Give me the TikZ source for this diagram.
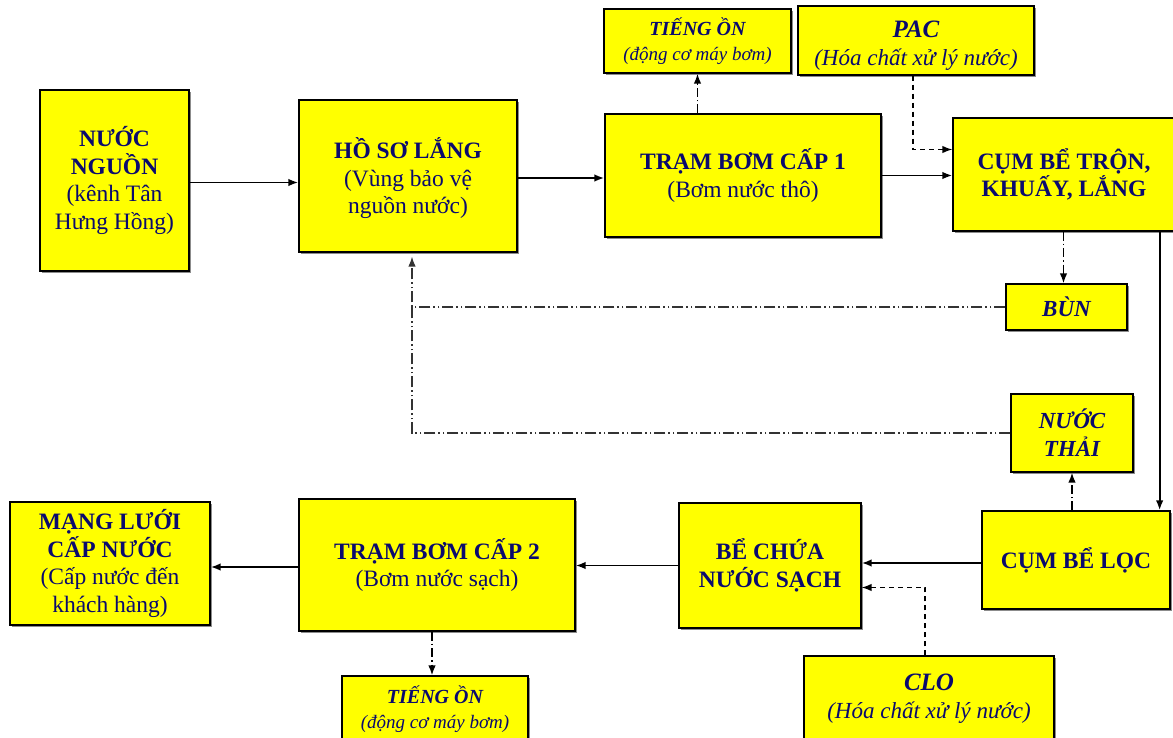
\documentclass[tikz,border=0pt]{standalone}
\usepackage{fontspec}
\setmainfont{Liberation Serif}
\usetikzlibrary{arrows.meta,shadows}
\definecolor{navy}{RGB}{10,10,110}
\definecolor{boxyellow}{RGB}{255,255,0}
\newcommand{\tb}{\bfseries}
\newcommand{\tbi}{\bfseries\itshape}
\begin{document}
\begin{tikzpicture}[x=1pt,y=-1pt,
  box/.style={draw=black, line width=1.3pt, fill=boxyellow, text=navy, align=center, inner sep=2pt,
    drop shadow={shadow xshift=1.6pt, shadow yshift=-1.6pt, fill=black!45, opacity=1}},
  big/.style={font=\fontsize{23.5}{27.5}\selectfont},
  mid/.style={font=\fontsize{23}{28}\selectfont},
  small/.style={font=\fontsize{19}{25}\selectfont},
  arr/.style={line width=1.8pt, -{Latex[length=10pt,width=7.5pt]}},
  dashedline/.style={dash pattern=on 5pt off 4pt},
  dashdot/.style={dash pattern=on 9pt off 3pt on 1.5pt off 3pt},
  dashdotdot/.style={dash pattern=on 11pt off 3pt on 1.5pt off 3pt on 1.5pt off 3pt, draw=black!80},
]
\useasboundingbox (0,0) rectangle (1173,738);
\fill[white] (0,0) rectangle (1173,738);

% nodes
\node[box, big, minimum width=149pt, minimum height=181pt] (nn) at (114.5,180.5)
  {\tb NƯỚC\\\tb NGUỒN\\(kênh Tân\\Hưng Hồng)};
\node[box, big, minimum width=218pt, minimum height=152pt] (hs) at (408,176)
  {\tb\rule{0pt}{26pt}HỒ SƠ LẮNG\\(Vùng bảo vệ\\nguồn nước)};
\node[box, big, minimum width=276pt, minimum height=123pt] (t1) at (743,175.5)
  {\tb TRẠM BƠM CẤP 1\\(Bơm nước thô)};
\node[box, small, minimum width=187pt, minimum height=64pt] (on1) at (697.5,41)
  {\tbi\fontsize{20}{25}\selectfont TIẾNG ỒN\\\itshape (động cơ máy bơm)};
\node[box, mid, minimum width=236pt, minimum height=69pt] (pac) at (916,40.5)
  {\tbi\fontsize{25}{28}\selectfont\rule{0pt}{27pt}PAC\\\itshape (Hóa chất xử lý nước)};
\node[box, big, minimum width=222pt, minimum height=113pt] (tron) at (1064,174.5)
  {\tb CỤM BỂ TRỘN,\\\tb KHUẤY, LẮNG};
\node[box, mid, minimum width=121pt, minimum height=46pt] (bun) at (1066.5,307)
  {\tbi BÙN};
\node[box, mid, minimum width=122pt, minimum height=78pt] (thai) at (1072,433)
  {\tbi NƯỚC\\\tbi THẢI};
\node[box, big, minimum width=188pt, minimum height=98pt] (loc) at (1076,560)
  {\tb CỤM BỂ LỌC};
\node[box, big, minimum width=182pt, minimum height=125pt] (chua) at (770,565.5)
  {\tb BỂ CHỨA\\\tb NƯỚC SẠCH};
\node[box, mid, minimum width=250pt, minimum height=86pt] (clo) at (929,699)
  {\tbi\fontsize{25}{28}\selectfont CLO\\\itshape (Hóa chất xử lý nước)};
\node[box, big, minimum width=276pt, minimum height=132pt] (t2) at (437,565)
  {\tb TRẠM BƠM CẤP 2\\(Bơm nước sạch)};
\node[box, small, minimum width=186pt, minimum height=66pt] (on2) at (435,709)
  {\tbi\fontsize{20}{25}\selectfont TIẾNG ỒN\\\itshape (động cơ máy bơm)};
\node[box, big, minimum width=200pt, minimum height=123pt] (mang) at (110,563.5)
  {\tb MẠNG LƯỚI\\\tb CẤP NƯỚC\\(Cấp nước đến\\khách hàng)};

% helper coordinates
\coordinate (on2in) at ([xshift=-3pt]on2.north);
\coordinate (bunin) at ([xshift=-3pt]bun.north);
\coordinate (tronout) at ([xshift=-16pt]tron.south east);

% main flow
\draw[arr] ([yshift=-2pt]nn.east) -- ([yshift=-2pt]nn.east -| hs.west);
\draw[arr] ([yshift=-2pt]hs.east) -- ([yshift=-2pt]hs.east -| t1.west);
\draw[arr] (t1.east) -- (t1.east -| tron.west);
\draw[arr] (tronout) -- (tronout |- loc.north);
\draw[arr] ([yshift=-3pt]loc.west) -- ([yshift=-3pt]loc.west -| chua.east);
\draw[arr] (chua.west) -- (chua.west -| t2.east);
\draw[arr] ([yshift=-2pt]t2.west) -- ([yshift=-2pt]t2.west -| mang.east);

% chemicals
\draw[arr, line width=1.4pt, dashedline] ([xshift=-3pt]pac.south) |- ([yshift=25pt]tron.west);
\draw[arr, line width=1.4pt, dashedline] ([xshift=-4pt]clo.north) |- ([yshift=-22pt]chua.east);

% noise / by-products
\draw[arr, line width=1.5pt, dashdot] (t1.north -| on1.south) -- (on1.south);
\draw[arr, line width=1.5pt, dashdot] (t2.south -| on2in) -- (on2in);
\draw[arr, line width=1.5pt, dashdot] (tron.south -| bunin) -- (bunin);
\draw[arr, line width=1.5pt, dashdot] (loc.north -| thai.south) -- (thai.south);

% recycle lines
\coordinate (ret) at ([xshift=4pt,yshift=-4pt]hs.south);
\draw[arr, dashdotdot, line width=1.3pt] (bun.west) -| (ret);
\draw[dashdotdot, line width=1.3pt] (thai.west) -| (ret |- bun.west);
\end{tikzpicture}
\end{document}
